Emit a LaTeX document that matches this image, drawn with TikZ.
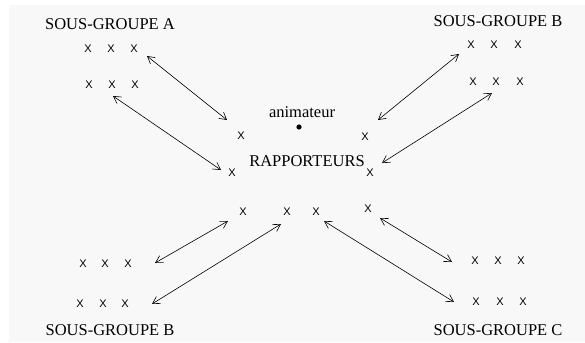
\documentclass[tikz,border=0pt]{standalone}
\usepackage{fontspec}
\setmainfont{Liberation Serif}
\newfontfamily\marksfont{Liberation Sans}
\usetikzlibrary{arrows.meta}
\definecolor{bggray}{RGB}{248,248,248}
\begin{document}
\begin{tikzpicture}[x=1pt,y=-1pt,
    xmark/.style={anchor=center,inner sep=0pt,font=\marksfont\fontsize{11}{11}\selectfont},
    grp/.style={anchor=base,inner sep=0pt,font=\fontsize{16.5}{18}\selectfont},
    link/.style={{Straight Barb[length=7pt,width=8pt]}-{Straight Barb[length=7pt,width=8pt]},line width=0.6pt}]
        \useasboundingbox (0,0) rectangle (585,342);
        \fill[bggray] (9,5) rectangle (585,342);

        % Sous-groupe A
        \node[grp] (la) at (110,30) {SOUS-GROUPE A};
        \node[xmark] (a1) at (88,49) {X};
        \node[xmark] (a2) at (111,49) {X};
        \node[xmark] (a3) at (134,49) {X};
        \node[xmark] (a4) at (89,85) {X};
        \node[xmark] (a5) at (112,85) {X};
        \node[xmark] (a6) at (135,85) {X};

        % Sous-groupe B (top)
        \node[grp] (lb) at (498,27) {SOUS-GROUPE B};
        \node[xmark] (b1) at (471,45) {X};
        \node[xmark] (b2) at (494,45) {X};
        \node[xmark] (b3) at (518,45) {X};
        \node[xmark] (b4) at (473,82) {X};
        \node[xmark] (b5) at (496,82) {X};
        \node[xmark] (b6) at (520,82) {X};

        % Sous-groupe B (bottom)
        \node[grp] (ld) at (110,335) {SOUS-GROUPE B};
        \node[xmark] (d1) at (83,264) {X};
        \node[xmark] (d2) at (105,264) {X};
        \node[xmark] (d3) at (128,264) {X};
        \node[xmark] (d4) at (80,304) {X};
        \node[xmark] (d5) at (103,304) {X};
        \node[xmark] (d6) at (125,304) {X};

        % Sous-groupe C
        \node[grp] (lc) at (498,335) {SOUS-GROUPE C};
        \node[xmark] (c1) at (475,261) {X};
        \node[xmark] (c2) at (498,261) {X};
        \node[xmark] (c3) at (521,261) {X};
        \node[xmark] (c4) at (476,302) {X};
        \node[xmark] (c5) at (500,302) {X};
        \node[xmark] (c6) at (523,302) {X};

        % Animateur and rapporteurs
        \node[grp] (anim) at (302,117) {animateur};
        \fill (299,127) circle (2.6pt) coordinate (dot);
        \node[grp] (rapp) at (307,166) {RAPPORTEURS};
        \node[xmark] (r1) at (241,136) {X};
        \node[xmark] (r2) at (365,137) {X};
        \node[xmark] (r3) at (232,173) {X};
        \node[xmark] (r4) at (370,173) {X};
        \node[xmark] (r5) at (243,212) {X};
        \node[xmark] (r6) at (287,212) {X};
        \node[xmark] (r7) at (316,212) {X};
        \node[xmark] (r8) at (368,209) {X};

        % Arrow ends
        \coordinate (s1) at (147,56);  \coordinate (t1) at (227,120);
        \coordinate (s2) at (113,96);  \coordinate (t2) at (221,170);
        \coordinate (s3) at (459,54);  \coordinate (t3) at (378,120);
        \coordinate (s4) at (492,93);  \coordinate (t4) at (382,163);
        \coordinate (s5) at (155,263); \coordinate (t5) at (228,221);
        \coordinate (s6) at (152,304); \coordinate (t6) at (281,224);
        \coordinate (s7) at (452,262); \coordinate (t7) at (380,218);
        \coordinate (s8) at (454,302); \coordinate (t8) at (324,221);

        % Draw exchanges between groups and rapporteurs
        \draw[link] (s1) -- (t1); % A
        \draw[link] (s2) -- (t2); % A
        \draw[link] (s3) -- (t3); % B top
        \draw[link] (s4) -- (t4); % B top
        \draw[link] (s5) -- (t5); % B bottom
        \draw[link] (s6) -- (t6); % B bottom
        \draw[link] (s7) -- (t7); % C
        \draw[link] (s8) -- (t8); % C
    \end{tikzpicture}
\end{document}
